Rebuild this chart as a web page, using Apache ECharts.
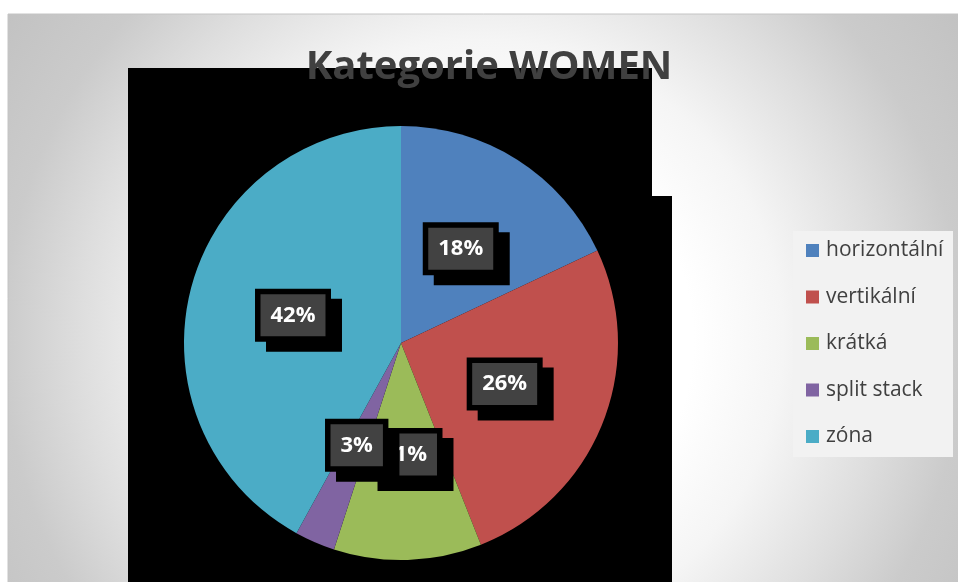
<!DOCTYPE html>
<html>
<head>
<meta charset="utf-8">
<script src="https://cdn.jsdelivr.net/npm/echarts@6/dist/echarts.min.js"></script>
<style>html,body{margin:0;padding:0;background:#fff}#c{width:958px;height:582px}</style>
</head>
<body>
<div id="c"></div>
<script>
const titleText = 'Kategorie WOMEN';
const categories = ['horizontální', 'vertikální', 'krátká', 'split stack', 'zóna'];
const values = [18, 26, 11, 3, 42];
const colors = ['#4f81bd', '#c0504d', '#9bbb59', '#8064a2', '#4bacc6'];

const chart = echarts.init(document.getElementById('c'), null, {renderer: 'canvas'});
const option = {
  animation: false,
  backgroundColor: '#ffffff',
  title: {
    text: titleText,
    left: 489,
    top: 48,
    padding: 0,
    textAlign: 'center',
    textStyle: {fontFamily: 'Open Sans', fontWeight: 'bold', fontSize: 40, color: '#404040'}
  },
  graphic: [
    {type: 'rect', z: -20, silent: true,
      shape: {x: 8, y: 14, width: 960, height: 580},
      style: {
        fill: {type: 'radial', x: 483, y: 340, r: 600, global: true,
          colorStops: [{offset: 0, color: '#ffffff'}, {offset: 0.35, color: '#ffffff'}, {offset: 0.5, color: '#f5f5f5'},
                       {offset: 0.67, color: '#dedede'}, {offset: 0.8, color: '#cbcbcb'}, {offset: 1, color: '#c0c0c0'}]},
        stroke: '#c4c4c4', lineWidth: 1
      }},
    {type: 'polygon', z: -10, silent: true,
      shape: {points: [[128, 68], [652, 68], [652, 196], [672, 196], [672, 582], [128, 582]]},
      style: {fill: '#000000'}},
    {type: 'rect', z: -10, silent: true,
      shape: {x: 793, y: 231, width: 160, height: 226},
      style: {fill: '#f2f2f2'}}
  ],
  legend: {
    orient: 'vertical',
    left: 806,
    top: 240,
    padding: 0,
    itemWidth: 13,
    itemHeight: 13,
    itemGap: 25.5,
    icon: 'rect',
    data: categories,
    textStyle: {fontFamily: 'Open Sans', fontSize: 21, lineHeight: 20, color: '#404040', padding: [0, 0, 0, 2]}
  },
  series: [{
    type: 'pie',
    center: [401, 343],
    radius: [0, 217],
    startAngle: 90,
    clockwise: true,
    avoidLabelOverlap: false,
    minShowLabelAngle: 0,
    itemStyle: {borderWidth: 0},
    label: {
      show: true,
      position: 'inside',
      formatter: function (p) { return Math.round(p.percent) + '%'; },
      fontFamily: 'Open Sans', fontWeight: 'bold', fontSize: 22, lineHeight: 26,
      color: '#ffffff',
      backgroundColor: '#424242',
      borderColor: '#000000',
      borderWidth: 5.5,
      padding: [8, 10, 8, 10],
      shadowColor: '#000000',
      shadowBlur: 0,
      shadowOffsetX: 11,
      shadowOffsetY: 10
    },
    labelLayout: {hideOverlap: false},
    labelLine: {show: false},
    emphasis: {disabled: true},
    data: categories.map((n, i) => ({name: n, value: values[i], itemStyle: {color: colors[i]}}))
  }]
};
chart.setOption(option);
</script>
</body>
</html>
